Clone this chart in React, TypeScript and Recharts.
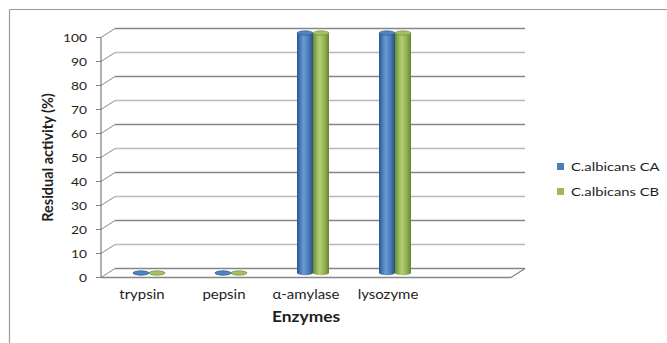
import React from 'react';
import { BarChart, Bar, XAxis, YAxis, CartesianGrid, Legend, Customized } from 'recharts';

// Residual enzyme activity for two C. albicans isolates
const enzymes = ['trypsin', 'pepsin', 'α-amylase', 'lysozyme', ''];
const albicansCA: (number | null)[] = [0, 0, 100, 100, null];
const albicansCB: (number | null)[] = [0, 0, 100, 100, null];
const yTicks = [0, 10, 20, 30, 40, 50, 60, 70, 80, 90, 100];
const seriesNames = ['C.albicans CA', 'C.albicans CB'];
const axisTitles = { x: 'Enzymes', y: 'Residual activity (%)' };

const data = enzymes.map((enzyme, i) => ({ enzyme, ca: albicansCA[i], cb: albicansCB[i] }));

const W = 667;
const H = 343;
const FONT = 'Lato, "Open Sans", sans-serif';
const TEXT = '#1e1e1e';
const STRETCH = 1.2; // horizontal widening of the labels
const MARGIN = { top: 37.5, right: 156, bottom: 35.5, left: 41 };
const Y_AXIS_W = 60;
const X_AXIS_H = 30;
const PLOT_BOTTOM = H - MARGIN.bottom - X_AXIS_H;
const PLOT_LEFT = MARGIN.left + Y_AXIS_W;
const PLOT_RIGHT = W - MARGIN.right;
const DX = 14; // depth offset of the back wall
const DY = 9;
const GRID_DARK = '#868686';
const GRID_LIGHT = '#b9b9b9';

const palette = {
  ca: { grad: 'cylBlue', cap: '#4f83c2', edge: '#2d5788', stops: ['#2b5487', '#4a7dbb', '#6b9bd6', '#4677b3', '#2a5181'] },
  cb: { grad: 'cylGreen', cap: '#a3c263', edge: '#6f8b34', stops: ['#6c8834', '#95b555', '#b3d074', '#8fae50', '#678230'] },
};

const Defs = () => (
  <defs>
    {Object.values(palette).map((p) => (
      <linearGradient key={p.grad} id={p.grad} x1="0" y1="0" x2="1" y2="0">
        <stop offset="0%" stopColor={p.stops[0]} />
        <stop offset="22%" stopColor={p.stops[1]} />
        <stop offset="42%" stopColor={p.stops[2]} />
        <stop offset="75%" stopColor={p.stops[3]} />
        <stop offset="100%" stopColor={p.stops[4]} />
      </linearGradient>
    ))}
  </defs>
);

// Cylinder standing half-way into the depth of the 3D frame
const makeCylinder = (key: 'ca' | 'cb') => (props: any) => {
  const { x, y, width, height, payload } = props;
  if (payload == null || payload[key] == null) return <g />;
  const p = palette[key];
  const cx = x + width / 2 + DX / 2;
  const top = y - DY / 2;
  const bottom = y + height - DY / 2;
  const rx = width / 2;
  const ry = 2.2;
  return (
    <g>
      {bottom - top > 0.5 && (
        <rect x={x + DX / 2} y={top} width={width} height={bottom - top} fill={`url(#${p.grad})`} />
      )}
      <ellipse cx={cx} cy={bottom} rx={rx} ry={ry} fill={`url(#${p.grad})`} />
      <ellipse cx={cx} cy={top} rx={rx} ry={ry} fill={p.cap} stroke={p.edge} strokeWidth={0.6} />
    </g>
  );
};

// Horizontal gridline: slanted link from the front axis to the back wall, then the back line
const GridLine3D = (props: any) => {
  const { x1, x2, y1, index } = props;
  const isFloor = Math.abs(y1 - PLOT_BOTTOM) < 0.5;
  const tickIdx = Math.round((PLOT_BOTTOM - y1) / ((PLOT_BOTTOM - MARGIN.top) / 10));
  const color = tickIdx % 2 === 0 ? GRID_DARK : GRID_LIGHT;
  return (
    <g key={`g-${index}`}>
      <line x1={x1} y1={y1} x2={x1 + DX} y2={y1 - DY} stroke={GRID_DARK} strokeWidth={1} />
      <line x1={x1 + DX} y1={y1 - DY} x2={x2 + DX} y2={y1 - DY} stroke={color} strokeWidth={1.3} />
      {isFloor && (
        <line x1={x2} y1={y1} x2={x2 + DX} y2={y1 - DY} stroke={GRID_DARK} strokeWidth={1.3} />
      )}
    </g>
  );
};

const WideText = ({ x, y, anchor, size, bold, children }: any) => (
  <text
    transform={`translate(${x}, ${y}) scale(${STRETCH}, 1)`}
    textAnchor={anchor}
    fontFamily={FONT}
    fontSize={size}
    fontWeight={bold ? 'bold' : 'normal'}
    fill={TEXT}
  >
    {children}
  </text>
);

const CategoryTick = (props: any) => {
  const { x, payload } = props;
  return (
    <WideText x={x} y={299} anchor="middle" size={12.5}>
      {payload.value}
    </WideText>
  );
};

const ValueTick = (props: any) => {
  const { x, y, payload } = props;
  return (
    <WideText x={x} y={y + 4.3} anchor="end" size={11.5}>
      {payload.value}
    </WideText>
  );
};

const Frame = () => (
  <g>
    <line x1={9.5} y1={9.5} x2={W} y2={9.5} stroke="#9a9a9a" strokeWidth={1.2} />
    <line x1={9.5} y1={9.5} x2={9.5} y2={H} stroke="#9a9a9a" strokeWidth={1.2} />
    <WideText x={(PLOT_LEFT + PLOT_RIGHT) / 2} y={322} anchor="middle" size={14.5} bold>
      {axisTitles.x}
    </WideText>
    <text
      x={0}
      y={0}
      transform={`translate(53, ${(MARGIN.top + PLOT_BOTTOM) / 2}) rotate(-90)`}
      textAnchor="middle"
      fontFamily={FONT}
      fontWeight="bold"
      fontSize={14.5}
      fill={TEXT}
    >
      {axisTitles.y}
    </text>
  </g>
);

const LegendContent = (props: any) => {
  const { payload } = props;
  return (
    <svg width={110} height={50}>
      {(payload || []).map((entry: any, i: number) => (
        <g key={entry.value}>
          <rect x={0} y={6 + i * 25} width={7} height={7} fill={entry.color} />
          <WideText x={14} y={14 + i * 25} anchor="start" size={12.3}>
            {entry.value}
          </WideText>
        </g>
      ))}
    </svg>
  );
};

export default function App() {
  return (
    <div style={{ position: 'absolute', left: 0, top: 0, width: W, height: H, background: '#fff' }}>
      <BarChart width={W} height={H} data={data} margin={MARGIN} barGap={0} barSize={16}>
        <Customized component={<Defs />} />
        <Customized component={<Frame />} />
        <CartesianGrid vertical={false} horizontal={(p: any) => <GridLine3D {...p} />} />
        <XAxis
          dataKey="enzyme"
          height={X_AXIS_H}
          tickLine={false}
          tickSize={0}
          axisLine={{ stroke: GRID_DARK, strokeWidth: 1.3 }}
          tick={<CategoryTick />}
          interval={0}
        />
        <YAxis
          type="number"
          width={Y_AXIS_W}
          domain={[0, 100]}
          ticks={yTicks}
          interval={0}
          tickSize={5}
          tickMargin={9}
          axisLine={{ stroke: GRID_DARK, strokeWidth: 1.3 }}
          tickLine={{ stroke: GRID_DARK }}
          tick={<ValueTick />}
        />
        <Legend
          layout="vertical"
          align="center"
          verticalAlign="middle"
          content={<LegendContent />}
          wrapperStyle={{ position: 'absolute', left: 557, top: 157, width: 110 }}
        />
        <Bar dataKey="ca" name={seriesNames[0]} fill="#4a7ebb" isAnimationActive={false} shape={makeCylinder('ca')} />
        <Bar dataKey="cb" name={seriesNames[1]} fill="#9bbb59" isAnimationActive={false} shape={makeCylinder('cb')} />
      </BarChart>
    </div>
  );
}
